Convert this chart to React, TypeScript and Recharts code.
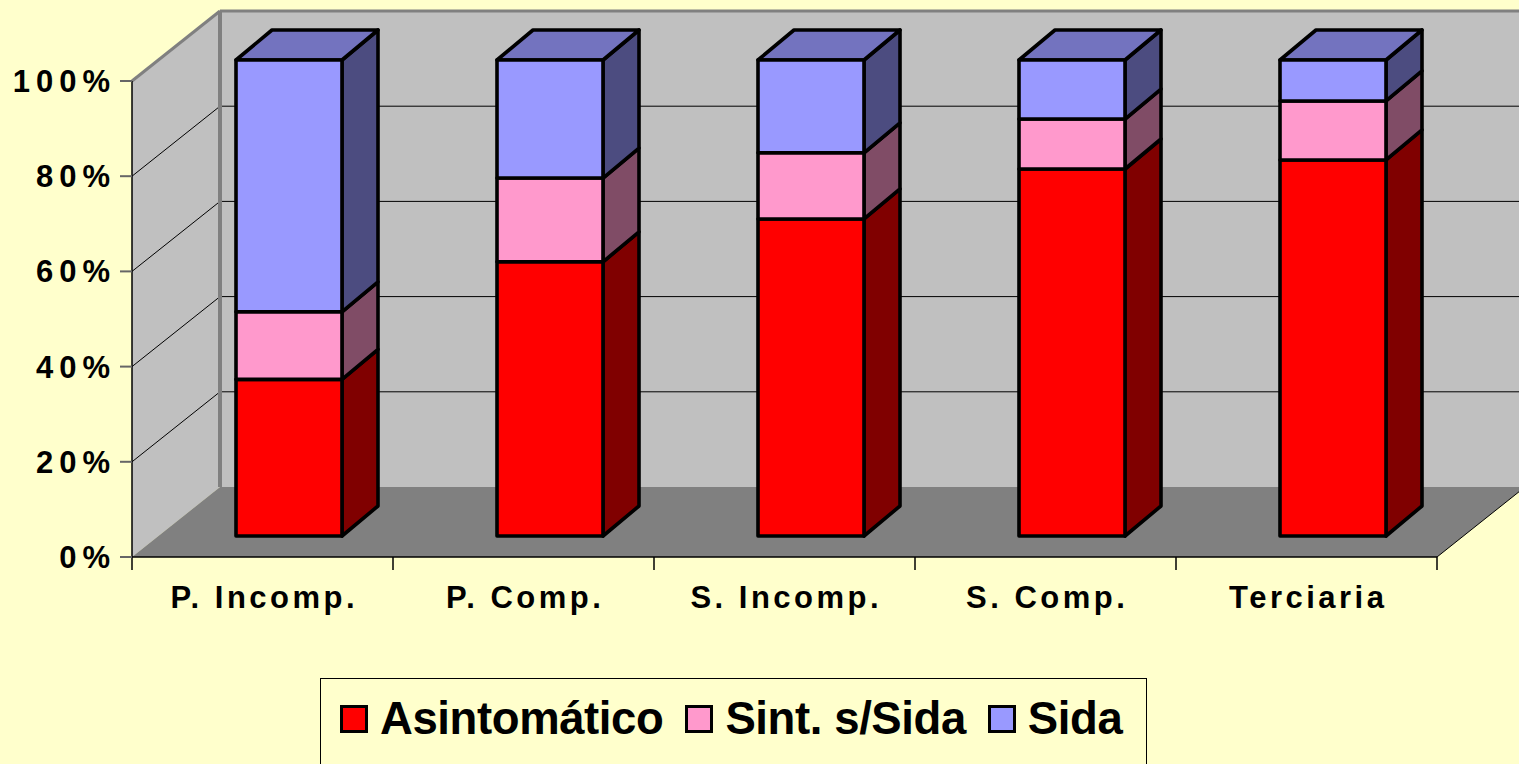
import React from 'react';
import { BarChart, Bar, XAxis, YAxis, Legend, ReferenceArea } from 'recharts';

// ---------- data ----------
const categories = ['P. Incomp.', 'P. Comp.', 'S. Incomp.', 'S. Comp.', 'Terciaria'];
const asintomatico = [32.9, 57.6, 66.6, 77.1, 79.0];
const sintSinSida = [14.2, 17.6, 13.9, 10.5, 12.4];
const sida = [52.9, 24.8, 19.5, 12.4, 8.6];
const yTicks = [0, 20, 40, 60, 80, 100];
const seriesNames = ['Asintomático', 'Sint. s/Sida', 'Sida'];

const data = categories.map((c, i) => ({
  name: c,
  asint: asintomatico[i],
  sint: sintSinSida[i],
  sida: sida[i],
}));

// ---------- layout / style ----------
const W = 1519;
const H = 764;
const MARGIN = { top: 81, right: 82, bottom: 157, left: 0 };
const Y_AXIS_W = 132;
const X_AXIS_H = 50;
const BAND = (W - MARGIN.right - MARGIN.left - Y_AXIS_W) / categories.length;
const FONT = '"Liberation Sans", Arial, sans-serif';

const DEPTH_X = 88;
const DEPTH_Y = -70;
const BAR_DX = 26; // bar front plane offset inside the 3D box
const BAR_DY = -21;
const SIDE_DX = 36;
const SIDE_DY = -30;

const BG = '#FFFFCC';

const makeShape = (front: string, side: string, top: string, isTop: boolean) => (props: any) => {
  const { x, y, width, height } = props;
  if (width == null || height == null) return null;
  const fx = x + BAR_DX;
  const fy = y + BAR_DY;
  const r = fx + width;
  const b = fy + height;
  const sw = 3.6;
  return (
    <g>
      <polygon
        points={`${r},${fy} ${r + SIDE_DX},${fy + SIDE_DY} ${r + SIDE_DX},${b + SIDE_DY} ${r},${b}`}
        fill={side}
        stroke="#000"
        strokeWidth={sw}
        strokeLinejoin="round"
      />
      {isTop && (
        <polygon
          points={`${fx},${fy} ${fx + SIDE_DX},${fy + SIDE_DY} ${r + SIDE_DX},${fy + SIDE_DY} ${r},${fy}`}
          fill={top}
          stroke="#000"
          strokeWidth={sw}
          strokeLinejoin="round"
        />
      )}
      <rect x={fx} y={fy} width={width} height={height} fill={front} stroke="#000" strokeWidth={sw} strokeLinejoin="round" />
    </g>
  );
};

const WallShape = (props: any) => {
  const { x, y, width, height } = props;
  if (x == null) return null;
  const L = x;
  const T = y;
  const R = x + width;
  const B = y + height;
  const dx = DEPTH_X;
  const dy = DEPTH_Y;
  const grid = yTicks.filter((t) => t > 0 && t < 100);
  return (
    <g>
      <rect x={L + dx} y={T + dy} width={width} height={height} fill="#C0C0C0" />
      <polygon points={`${L},${T} ${L + dx},${T + dy} ${L + dx},${B + dy} ${L},${B}`} fill="#C0C0C0" />
      <polygon points={`${L},${B} ${L + dx},${B + dy} ${R + dx},${B + dy} ${R},${B}`} fill="#808080" />
      {grid.map((t) => {
        const yy = B - (height * t) / 100;
        return (
          <polyline
            key={t}
            points={`${L},${yy} ${L + dx},${yy + dy} ${R + dx},${yy + dy}`}
            fill="none"
            stroke="#000"
            strokeWidth={1}
          />
        );
      })}
      <line x1={L} y1={T} x2={L + dx} y2={T + dy} stroke="#808080" strokeWidth={3} />
      <line x1={L + dx} y1={T + dy} x2={R + dx} y2={T + dy} stroke="#808080" strokeWidth={3} />
      <line x1={L + dx} y1={T + dy} x2={L + dx} y2={B + dy} stroke="#808080" strokeWidth={4} />
      <line x1={R} y1={B} x2={R + dx} y2={B + dy} stroke="#000" strokeWidth={1} />
    </g>
  );
};

const XTick = (props: any) => {
  const { x, y, payload, index } = props;
  const half = BAND / 2;
  return (
    <g>
      <line x1={x - half} y1={y} x2={x - half} y2={y + 13} stroke="#000" strokeWidth={1.5} />
      {index === categories.length - 1 && (
        <line x1={x + half} y1={y} x2={x + half} y2={y + 13} stroke="#000" strokeWidth={1.5} />
      )}
      <text
        x={x + 1.75}
        y={y + 51}
        textAnchor="middle"
        fontFamily={FONT}
        fontWeight="bold"
        fontSize={31}
        letterSpacing={3.5}
        fill="#000"
      >
        {payload.value}
      </text>
    </g>
  );
};

const YTick = (props: any) => {
  const { x, y, payload } = props;
  return (
    <g>
      <line x1={x - 12} y1={y} x2={x} y2={y} stroke="#666" strokeWidth={2} />
      <text
        x={x - 16}
        y={y + 11}
        textAnchor="end"
        fontFamily={FONT}
        fontWeight="bold"
        fontSize={31}
        letterSpacing={6}
        fill="#000"
      >
        {`${payload.value}%`}
      </text>
    </g>
  );
};

const LegendContent = (props: any) => {
  const items = [...(props.payload || [])].sort(
    (a: any, b: any) => seriesNames.indexOf(a.value) - seriesNames.indexOf(b.value)
  );
  return (
    <div
      style={{
        boxSizing: 'border-box',
        width: '100%',
        height: '100%',
        border: '1.5px solid #000',
        background: BG,
        display: 'flex',
        alignItems: 'flex-start',
        paddingLeft: 19,
        paddingTop: 17,
      }}
    >
      {items.map((p: any, i: number) => (
        <div key={i} style={{ display: 'flex', alignItems: 'center', marginRight: 22, height: 46 }}>
          <div
            style={{
              width: 22,
              height: 22,
              background: p.color,
              border: '3px solid #000',
              marginRight: 12,
            }}
          />
          <span
            style={{
              fontFamily: FONT,
              fontWeight: 'bold',
              fontSize: 45.5,
              letterSpacing: -0.4,
              lineHeight: '46px',
              color: '#000',
              whiteSpace: 'nowrap',
            }}
          >
            {p.value}
          </span>
        </div>
      ))}
    </div>
  );
};

export default function App() {
  return (
    <div
      style={{
        position: 'absolute',
        left: 0,
        top: 0,
        width: W,
        height: H,
        background: BG,
        overflow: 'hidden',
      }}
    >
      <BarChart width={W} height={H} data={data} margin={MARGIN} barSize={106}>
        <ReferenceArea y1={0} y2={100} ifOverflow="visible" shape={WallShape} fill="none" stroke="none" />
        <XAxis
          dataKey="name"
          height={X_AXIS_H}
          tickLine={false}
          tickSize={0}
          tickMargin={0}
          axisLine={{ stroke: '#000', strokeWidth: 1.5 }}
          tick={XTick}
          interval={0}
        />
        <YAxis
          width={Y_AXIS_W}
          domain={[0, 100]}
          ticks={yTicks}
          tickLine={false}
          tickSize={0}
          tickMargin={0}
          axisLine={{ stroke: '#000', strokeWidth: 1.5 }}
          tick={YTick}
          interval={0}
        />
        <Bar
          dataKey="asint"
          name={seriesNames[0]}
          stackId="s"
          fill="#FF0000"
          isAnimationActive={false}
          shape={makeShape('#FF0000', '#800000', '#800000', false)}
        />
        <Bar
          dataKey="sint"
          name={seriesNames[1]}
          stackId="s"
          fill="#FF99CC"
          isAnimationActive={false}
          shape={makeShape('#FF99CC', '#804C66', '#CC7AA3', false)}
        />
        <Bar
          dataKey="sida"
          name={seriesNames[2]}
          stackId="s"
          fill="#9999FF"
          isAnimationActive={false}
          shape={makeShape('#9999FF', '#4C4C80', '#7373BF', true)}
        />
        <Legend
          verticalAlign="middle"
          align="center"
          layout="horizontal"
          wrapperStyle={{ left: 320, top: 678, width: 827, height: 100 }}
          content={LegendContent}
        />
      </BarChart>
    </div>
  );
}
